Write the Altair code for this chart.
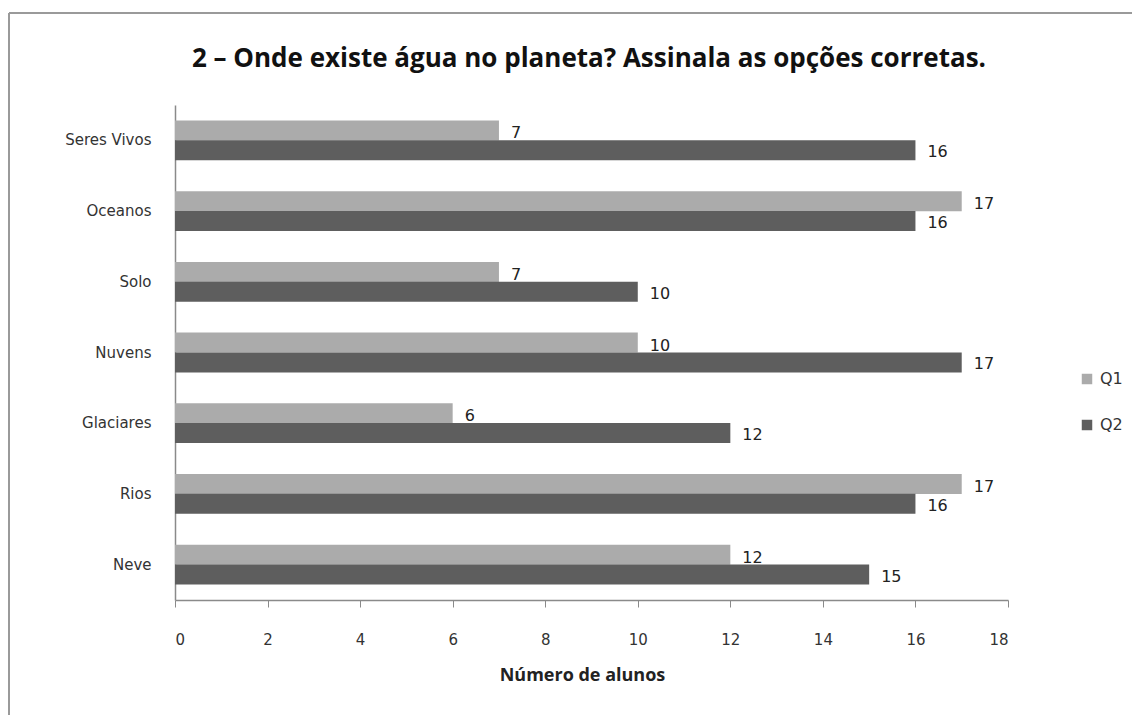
import altair as alt
import pandas as pd

# Survey answers: number of students choosing each option, per questionnaire
categories = ["Seres Vivos", "Oceanos", "Solo", "Nuvens", "Glaciares", "Rios", "Neve"]
q1_values = [7, 17, 7, 10, 6, 17, 12]
q2_values = [16, 16, 10, 17, 12, 16, 15]
series = ["Q1", "Q2"]
x_ticks = [0, 2, 4, 6, 8, 10, 12, 14, 16, 18]
chart_title = "2 – Onde existe água no planeta? Assinala as opções corretas."

rows = []
for cat, a, b in zip(categories, q1_values, q2_values):
    rows.append({"opcao": cat, "serie": "Q1", "alunos": a})
    rows.append({"opcao": cat, "serie": "Q2", "alunos": b})
df = pd.DataFrame(rows)

LABEL_FONT = "DejaVu Sans"
TITLE_FONT = "Open Sans"

y_enc = alt.Y(
    "opcao:N",
    sort=categories,
    scale=alt.Scale(paddingInner=0.44, paddingOuter=0.22),
    axis=alt.Axis(
        title=None,
        ticks=False,
        labelPadding=24,
        labelFontSize=15,
        labelFont=LABEL_FONT,
        labelColor="#333333",
        domainColor="#8a8a8a",
        domainWidth=1.5,
    ),
)
x_enc = alt.X(
    "alunos:Q",
    scale=alt.Scale(domain=[0, 18], nice=False),
    axis=alt.Axis(
        values=x_ticks,
        title="Número de alunos",
        titleFont=TITLE_FONT,
        titleFontSize=18,
        titleFontWeight="bold",
        titleColor="#222222",
        titlePadding=19,
        titleX=407,
        tickSize=7,
        tickColor="#8a8a8a",
        labelPadding=25,
        labelFontSize=15,
        labelFont=LABEL_FONT,
        labelColor="#333333",
        domainColor="#8a8a8a",
        domainWidth=1.5,
        grid=False,
    ),
)
color_enc = alt.Color(
    "serie:N",
    scale=alt.Scale(domain=series, range=["#ababab", "#5e5e5e"]),
    legend=alt.Legend(
        title=None,
        orient="none",
        legendX=904,
        legendY=266,
        symbolType="square",
        symbolSize=110,
        symbolStrokeWidth=0,
        labelFont=LABEL_FONT,
        labelFontSize=16,
        labelColor="#333333",
        rowPadding=30,
        labelOffset=5,
    ),
)
y_off = alt.YOffset("serie:N", sort=series)

bars = alt.Chart(df).mark_bar(size=20).encode(
    x=x_enc, y=y_enc, yOffset=y_off, color=color_enc
)

labels_q1 = (
    alt.Chart(df)
    .transform_filter(alt.datum.serie == "Q1")
    .mark_text(align="left", baseline="middle", dx=12, dy=3,
               font=LABEL_FONT, fontSize=16, color="#222222")
    .encode(x="alunos:Q", y=alt.Y("opcao:N", sort=categories), yOffset=y_off, text="alunos:Q")
)
labels_q2 = (
    alt.Chart(df)
    .transform_filter(alt.datum.serie == "Q2")
    .mark_text(align="left", baseline="middle", dx=12, dy=2,
               font=LABEL_FONT, fontSize=16, color="#222222")
    .encode(x="alunos:Q", y=alt.Y("opcao:N", sort=categories), yOffset=y_off, text="alunos:Q")
)

# Outer frame of the chart area (left and top edges) and the heading
single = alt.Data(values=[{"t": chart_title}])
frame_left = alt.Chart(single).mark_rule(color="#9a9a9a", strokeWidth=2).encode(
    x=alt.value(-166), y=alt.value(-92), y2=alt.value(615)
)
frame_top = alt.Chart(single).mark_rule(color="#9a9a9a", strokeWidth=2).encode(
    x=alt.value(-166), x2=alt.value(960), y=alt.value(-92)
)
heading = alt.Chart(single).mark_text(
    font=TITLE_FONT, fontSize=26, fontWeight="bold", color="#111111",
    align="center", baseline="middle",
).encode(x=alt.value(414), y=alt.value(-46), text="t:N")

chart = (
    alt.layer(frame_left, frame_top, heading, bars, labels_q1, labels_q2)
    .properties(
        width=833,
        height=495,
        background="white",
        autosize=alt.AutoSizeParams(type="none"),
        padding={"left": 175, "top": 105, "right": 124, "bottom": 115},
    )
    .configure_view(strokeWidth=0, stroke="transparent")
)

chart.save("out.html", embed_options={"renderer": "svg", "actions": False})
